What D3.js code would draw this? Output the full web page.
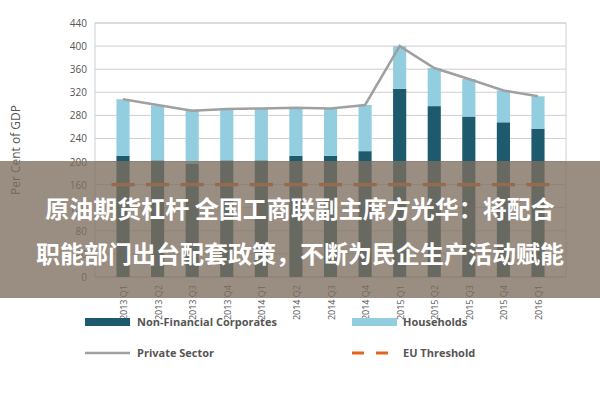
<!DOCTYPE html>
<html><head><meta charset="utf-8">
<script src="https://cdn.jsdelivr.net/npm/d3@7"></script>
<style>body{margin:0;background:#fff}svg{font-family:"Open Sans",sans-serif}</style>
</head><body><svg id="c" width="600" height="400"></svg>
<script>
const quarters = ["2013 Q1","2013 Q2","2013 Q3","2013 Q4","2014 Q1","2014 Q2","2014 Q3","2014 Q4","2015 Q1","2015 Q2","2015 Q3","2015 Q4","2016 Q1"];
const nonFinancial = [210,202,196,202,202,210,210,218,326,296,278,268,257];
const households = [98,95,94,90,90,82,82,80,74,66,65,55,56];
const privateSector = [308,298,288,291,292,293,292,298,400,362,343,323,313];
const euThreshold = 160;
const yTicks = d3.range(0, 441, 40);

const svg = d3.select("#c");
const m = {l: 95, r: 566, t: 23, b: 277};
const x = d3.scaleBand().domain(quarters).range([m.l, m.r]).padding(0.62);
const y = d3.scaleLinear().domain([0, 440]).range([m.b, m.t]);

svg.append("rect").attr("x", m.l).attr("y", m.t).attr("width", m.r - m.l).attr("height", m.b - m.t)
  .attr("fill", "none").attr("stroke", "#d0d0d0");
svg.append("g").selectAll("line").data(yTicks).enter().append("line")
  .attr("x1", m.l).attr("x2", m.r).attr("y1", d => y(d)).attr("y2", d => y(d))
  .attr("stroke", "#cfcfcf");
svg.append("g").selectAll("text").data(yTicks).enter().append("text")
  .attr("x", m.l - 8).attr("y", d => y(d) + 4).attr("text-anchor", "end")
  .attr("font-size", 10).attr("fill", "#555").text(d => d);
svg.append("text").attr("transform", `translate(20,${(m.t + m.b) / 2}) rotate(-90)`)
  .attr("text-anchor", "middle").attr("font-size", 12).attr("fill", "#555").text("Per Cent of GDP");

svg.append("g").selectAll("rect").data(quarters).enter().append("rect")
  .attr("x", d => x(d)).attr("width", x.bandwidth())
  .attr("y", (d, i) => y(nonFinancial[i])).attr("height", (d, i) => y(0) - y(nonFinancial[i]))
  .attr("fill", "#1d5a6e");
svg.append("g").selectAll("rect").data(quarters).enter().append("rect")
  .attr("x", d => x(d)).attr("width", x.bandwidth())
  .attr("y", (d, i) => y(nonFinancial[i] + households[i])).attr("height", (d, i) => y(0) - y(households[i]))
  .attr("fill", "#92cde0");
svg.append("g").selectAll("line").data(quarters).enter().append("line")
  .attr("x1", d => x(d) - 5).attr("x2", d => x(d) + x.bandwidth() + 5)
  .attr("y1", y(euThreshold)).attr("y2", y(euThreshold))
  .attr("stroke", "#e0651f").attr("stroke-width", 3.5);
svg.append("path").datum(privateSector)
  .attr("d", d3.line().x((d, i) => x(quarters[i]) + x.bandwidth() / 2).y(d => y(d)))
  .attr("fill", "none").attr("stroke", "#a0a0a0").attr("stroke-width", 2.5);

svg.append("g").selectAll("text").data(quarters).enter().append("text")
  .attr("transform", d => `translate(${x(d) + x.bandwidth() / 2 + 4},${m.b + 8}) rotate(-90)`)
  .attr("text-anchor", "end").attr("font-size", 9).attr("fill", "#555").text(d => d);

// legend
const lg = svg.append("g").attr("font-size", 11).attr("font-weight", "bold").attr("fill", "#555");
lg.append("rect").attr("x", 85).attr("y", 318).attr("width", 45).attr("height", 8).attr("fill", "#1d5a6e");
lg.append("text").attr("x", 137).attr("y", 326).text("Non-Financial Corporates");
lg.append("rect").attr("x", 352).attr("y", 318).attr("width", 45).attr("height", 8).attr("fill", "#92cde0");
lg.append("text").attr("x", 403).attr("y", 326).text("Households");
lg.append("line").attr("x1", 85).attr("x2", 130).attr("y1", 353).attr("y2", 353).attr("stroke", "#a0a0a0").attr("stroke-width", 2.5);
lg.append("text").attr("x", 137).attr("y", 357).text("Private Sector");
lg.append("line").attr("x1", 352).attr("x2", 397).attr("y1", 353).attr("y2", 353)
  .attr("stroke", "#e0651f").attr("stroke-width", 3).attr("stroke-dasharray", "12,12");
lg.append("text").attr("x", 403).attr("y", 357).text("EU Threshold");

// overlay banner
svg.append("rect").attr("x", 0).attr("y", 161).attr("width", 600).attr("height", 137)
  .attr("fill", "rgb(125,110,95)").attr("opacity", 0.78);
const ov = svg.append("g").attr("font-family", "'Noto Sans CJK SC',sans-serif").attr("font-weight", "bold")
  .attr("font-size", 24).attr("fill", "#fff").attr("text-anchor", "middle");
ov.append("text").attr("x", 300).attr("y", 218).text("原油期货杠杆 全国工商联副主席方光华：将配合");
ov.append("text").attr("x", 300).attr("y", 263).text("职能部门出台配套政策，不断为民企生产活动赋能");
</script></body></html>
